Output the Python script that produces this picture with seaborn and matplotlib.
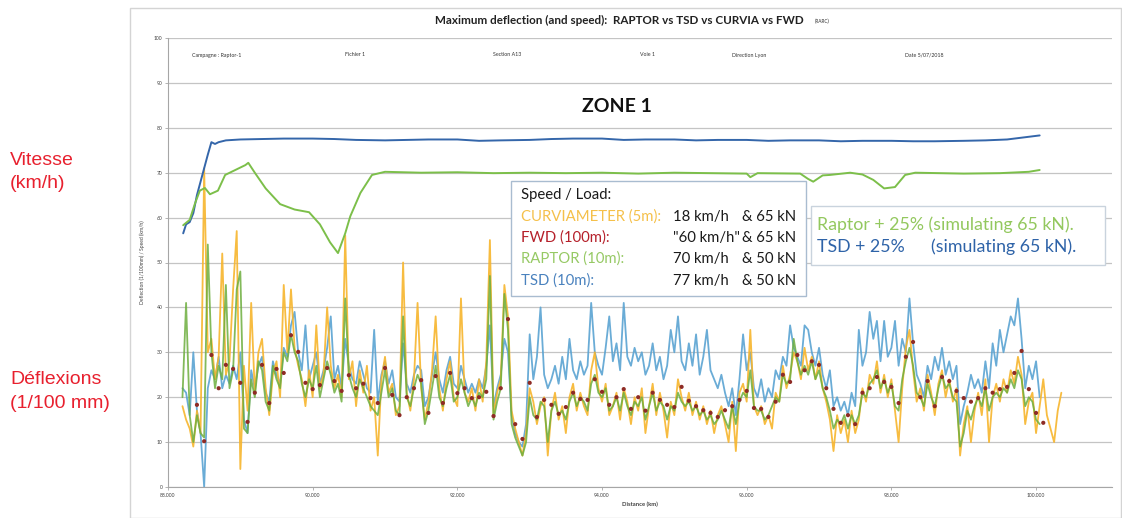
import numpy as np
import pandas as pd
import matplotlib
matplotlib.use("Agg")
import matplotlib.pyplot as plt
import seaborn as sns
from matplotlib.patches import Rectangle

# ---------------- DATA ----------------
DEFL_START_KM = 88.20
DEFL_STEP_KM = 0.05

curviameter = [
    18, 15, 13, 9, 17, 12, 71, 30, 33, 24, 29, 52, 25, 28, 44, 57, 4, 27, 17, 41,
    21, 30, 33, 22, 16, 25, 28, 20, 45, 30, 44, 31, 27, 24, 18, 26, 20, 36, 22, 25,
    40, 27, 22, 25, 20, 56, 24, 28, 18, 26, 21, 27, 17, 20, 7, 24, 29, 21, 23, 16,
    18, 50, 21, 17, 24, 41, 22, 15, 19, 26, 38, 22, 17, 24, 28, 20, 18, 42, 21, 19,
    22, 17, 24, 19, 28, 55, 16, 21, 24, 45, 38, 17, 13, 10, 7, 12, 22, 19, 14, 18,
    20, 7, 17, 21, 15, 18, 12, 20, 23, 17, 21, 18, 16, 26, 30, 22, 19, 23, 16, 18,
    21, 15, 22, 19, 14, 20, 17, 22, 12, 18, 23, 16, 21, 17, 11, 19, 16, 24, 20, 17,
    21, 16, 19, 15, 18, 14, 17, 12, 16, 18, 14, 10, 19, 8, 21, 23, 19, 35, 18, 16,
    18, 14, 16, 13, 21, 19, 27, 22, 25, 30, 28, 24, 31, 26, 29, 24, 28, 22, 19, 15,
    8, 16, 12, 15, 10, 17, 12, 15, 22, 19, 25, 23, 28, 21, 25, 20, 24, 17, 10, 22,
    31, 35, 26, 19, 22, 17, 25, 21, 16, 23, 26, 20, 24, 19, 22, 7, 14, 18, 10, 17,
    21, 16, 24, 10, 20, 23, 19, 24, 21, 26, 23, 29, 25, 14, 19, 21, 12, 18, 24, 16,
    13, 10, 17, 21,
]

raptor = [
    20, 41, 16, 10, 16, 12, 11, 54, 30, 22, 27, 24, 45, 22, 26, 44, 48, 13, 12, 24,
    20, 28, 26, 19, 17, 27, 24, 22, 30, 28, 34, 30, 28, 23, 20, 24, 22, 27, 20, 24,
    28, 25, 21, 23, 19, 42, 25, 22, 20, 24, 22, 20, 18, 17, 16, 21, 26, 20, 22, 17,
    16, 38, 20, 18, 22, 25, 23, 14, 17, 22, 27, 20, 18, 22, 25, 19, 20, 24, 21, 18,
    20, 18, 21, 20, 24, 47, 15, 19, 22, 43, 35, 14, 11, 9, 7, 10, 20, 16, 15, 19,
    18, 10, 17, 19, 16, 17, 15, 19, 21, 18, 20, 19, 17, 23, 25, 21, 20, 22, 17, 18,
    20, 17, 21, 18, 16, 19, 18, 20, 15, 18, 21, 17, 19, 18, 15, 18, 17, 21, 19, 18,
    19, 17, 18, 16, 17, 15, 16, 14, 15, 17, 15, 13, 18, 14, 19, 21, 20, 26, 18, 17,
    17, 15, 16, 18, 20, 19, 25, 23, 24, 33, 28, 25, 27, 25, 28, 24, 26, 22, 20, 17,
    13, 15, 14, 16, 13, 16, 14, 16, 21, 20, 23, 24, 26, 22, 24, 21, 23, 18, 17, 24,
    28, 31, 27, 21, 20, 18, 23, 20, 18, 22, 25, 22, 23, 20, 19, 9, 12, 17, 15, 18,
    20, 18, 22, 17, 20, 21, 20, 22, 21, 24, 22, 26, 24, 18, 20, 19, 15, 14,
]

tsd = [
    22, 21, 16, 30, 17, 12, 0, 22, 26, 24, 29, 22, 25, 23, 27, 24, 30, 15, 12, 26,
    22, 27, 29, 21, 19, 28, 25, 23, 31, 29, 36, 39, 30, 26, 36, 24, 27, 30, 23, 26,
    31, 38, 24, 27, 22, 33, 27, 24, 23, 28, 25, 22, 21, 35, 19, 25, 28, 23, 26, 20,
    19, 32, 23, 21, 25, 27, 26, 18, 20, 25, 30, 24, 21, 26, 29, 23, 22, 27, 24, 21,
    23, 21, 24, 22, 27, 36, 18, 22, 25, 33, 30, 16, 12, 10, 9, 14, 34, 24, 29, 40,
    25, 22, 24, 27, 23, 29, 24, 33, 26, 24, 28, 25, 27, 41, 30, 27, 25, 31, 38, 28,
    32, 26, 41, 29, 27, 31, 28, 30, 25, 27, 32, 26, 29, 24, 27, 35, 30, 38, 28, 26,
    32, 27, 34, 25, 29, 35, 26, 24, 22, 25, 21, 18, 22, 16, 24, 34, 26, 30, 22, 20,
    24, 19, 22, 20, 26, 24, 29, 27, 36, 31, 29, 27, 36, 35, 30, 27, 31, 25, 22, 26,
    18, 20, 17, 19, 16, 21, 18, 35, 27, 30, 39, 33, 37, 28, 37, 29, 31, 37, 27, 33,
    30, 42, 32, 25, 23, 20, 27, 24, 29, 26, 31, 25, 28, 24, 27, 14, 18, 21, 25, 22,
    24, 21, 28, 22, 32, 27, 35, 30, 34, 38, 36, 42, 33, 22, 27, 24, 28, 20,
]

FWD_START_KM = 88.4
FWD_STEP_KM = 0.1
fwd = [
    18.3, 10.2, 29.4, 22.0, 27.2, 26.3, 23.2, 14.5, 21.0, 27.2,
    18.7, 26.3, 25.4, 33.8, 30.1, 23.2, 21.8, 22.7, 26.5, 23.6,
    21.4, 24.9, 22.0, 23.0, 19.8, 18.7, 26.5, 20.5, 16.0, 20.0,
    22.0, 23.8, 16.5, 24.7, 18.7, 25.4, 20.9, 22.0, 19.8, 20.0,
    21.2, 15.8, 22.0, 37.4, 14.0, 10.7, 23.2, 15.6, 19.4, 18.3,
    16.3, 17.8, 21.0, 19.6, 19.4, 24.0, 21.2, 18.3, 20.0, 21.8,
    17.4, 20.0, 17.0, 21.0, 19.4, 18.3, 17.8, 22.3, 19.2, 18.0,
    17.1, 16.5, 15.6, 17.1, 18.0, 19.4, 21.4, 17.6, 17.4, 15.6,
    19.0, 25.0, 23.4, 29.4, 26.0, 28.0, 27.2, 22.0, 17.4, 14.3,
    16.0, 14.0, 21.0, 22.0, 24.5, 23.4, 22.3, 18.7, 29.0, 32.3,
    20.0, 23.6, 18.0, 24.5, 23.6, 21.4, 19.8, 19.0, 19.8, 22.0,
    21.0, 21.8, 22.3, 25.4, 30.3, 21.8, 16.5, 14.3,
]

speed_tsd_km = [88.21, 88.25, 88.30, 88.35, 88.40, 88.45, 88.50, 88.55, 88.60, 88.65,
                88.70, 88.80, 89.00, 89.30, 89.60, 90.00, 90.30, 90.60, 91.00, 91.30,
                91.60, 92.00, 92.30, 92.60, 93.00, 93.30, 93.60, 94.00, 94.30, 94.60,
                95.00, 95.30, 95.60, 96.00, 96.30, 96.60, 97.00, 97.30, 97.60, 98.00,
                98.30, 98.60, 99.00, 99.30, 99.60, 99.80, 100.05]
speed_tsd = [56.5, 58.5, 59.0, 61.0, 65.0, 68.0, 71.0, 74.0, 76.8, 76.4,
             76.8, 77.2, 77.4, 77.5, 77.6, 77.6, 77.5, 77.3, 77.2, 77.3,
             77.4, 77.4, 77.1, 77.2, 77.3, 77.5, 77.6, 77.6, 77.3, 77.4,
             77.4, 77.2, 77.3, 77.3, 77.1, 77.2, 77.2, 77.0, 77.1, 77.1,
             77.0, 77.0, 77.1, 77.2, 77.4, 77.8, 78.3]

speed_raptor_km = [88.21, 88.30, 88.37, 88.44, 88.51, 88.58, 88.69, 88.79, 88.93, 89.07,
                   89.11, 89.20, 89.35, 89.55, 89.75, 89.95, 90.10, 90.24, 90.35, 90.45,
                   90.52, 90.66, 90.82, 91.00, 91.50, 92.00, 92.50, 93.00, 93.50, 94.00,
                   94.50, 95.00, 95.50, 96.00, 96.05, 96.15, 96.74, 96.85, 96.92, 97.05,
                   97.15, 97.43, 97.60, 97.75, 97.90, 98.05, 98.19, 98.33, 99.00, 99.50,
                   99.90, 100.05]
speed_raptor = [58.3, 59.5, 63.0, 66.0, 66.6, 65.2, 66.0, 69.5, 70.6, 71.7,
                72.2, 70.0, 66.5, 63.0, 61.8, 61.2, 58.5, 54.5, 52.1, 56.5,
                60.3, 65.5, 69.5, 70.2, 70.0, 70.1, 69.9, 70.0, 69.9, 70.0,
                69.8, 70.0, 69.9, 69.8, 69.0, 69.9, 69.8, 68.6, 68.0, 69.4,
                69.5, 70.0, 69.6, 68.4, 66.5, 66.8, 69.5, 70.0, 69.8, 69.9,
                70.2, 70.6]

x_ticks = [88, 90, 92, 94, 96, 98, 100]
y_ticks = [0, 10, 20, 30, 40, 50, 60, 70, 80, 90, 100]

# ---------------- FRAMES ----------------
def defl_frame(vals, name):
    km = np.round(DEFL_START_KM + DEFL_STEP_KM * np.arange(len(vals)), 2)
    return pd.DataFrame({"km": km, "val": vals, "series": name})

df_c = defl_frame(curviameter, "CURVIAMETER")
df_r = defl_frame(raptor, "RAPTOR")
df_t = defl_frame(tsd, "TSD")
df_f = pd.DataFrame({"km": np.round(FWD_START_KM + FWD_STEP_KM * np.arange(len(fwd)), 2),
                     "val": fwd})
df_st = pd.DataFrame({"km": speed_tsd_km, "val": speed_tsd})
df_sr = pd.DataFrame({"km": speed_raptor_km, "val": speed_raptor})

# ---------------- STYLE ----------------
sns.set_theme(style="white")
plt.rcParams['font.family'] = ['Lato', 'DejaVu Sans']

W, H = 1122, 518
fig = plt.figure(figsize=(W / 100, H / 100), dpi=100)
fig.patch.set_facecolor("white")

def fx(px):
    return px / W

def fy(py):
    return 1 - py / H

ax = fig.add_axes([fx(168), fy(487), fx(1112) - fx(168), fy(38) - fy(487)])

C_YEL = "#F7B52C"
C_GRN = "#6DAE3E"
C_BLU = "#5AA3D2"
C_SPD_B = "#3466AA"
C_SPD_G = "#7CBF4A"
C_FWD = "#8E2B25"

sns.lineplot(data=df_t, x="km", y="val", ax=ax, color=C_BLU, lw=1.3,
             estimator=None, sort=False, alpha=0.9, zorder=2)
sns.lineplot(data=df_c, x="km", y="val", ax=ax, color=C_YEL, lw=1.3,
             estimator=None, sort=False, alpha=0.9, zorder=3)
sns.lineplot(data=df_r, x="km", y="val", ax=ax, color=C_GRN, lw=1.3,
             estimator=None, sort=False, alpha=0.85, zorder=4)
sns.scatterplot(data=df_f, x="km", y="val", ax=ax, color=C_FWD, s=9,
                edgecolor="none", zorder=6)
sns.lineplot(data=df_st, x="km", y="val", ax=ax, color=C_SPD_B, lw=1.4,
             estimator=None, sort=False, zorder=5)
sns.lineplot(data=df_sr, x="km", y="val", ax=ax, color=C_SPD_G, lw=1.4,
             estimator=None, sort=False, zorder=5)

ax.set_xlim(88, 101.05)
ax.set_ylim(0, 100)
ax.set_xticks(x_ticks)
ax.set_xticklabels([f"{v:.3f}" for v in x_ticks])
ax.set_yticks(y_ticks)
ax.set_yticklabels([str(v) for v in y_ticks])
ax.yaxis.grid(True, color="#C4C4C4", lw=0.9)
ax.xaxis.grid(False)
for s in ["top", "right"]:
    ax.spines[s].set_visible(False)
for s in ["left", "bottom"]:
    ax.spines[s].set_color("#A6A6A6")
    ax.spines[s].set_linewidth(0.8)
ax.tick_params(axis="both", direction="out", length=2.5, width=0.6, color="#A6A6A6",
               labelsize=3.6, labelcolor="#404040", pad=1.5)
ax.tick_params(axis="both", bottom=True, left=True)
ax.set_xlabel("Distance (km)", fontsize=4.2, color="#404040", labelpad=3, fontweight="bold")
ax.set_ylabel("Deflection (1/100mm) / Speed (km/h)", fontsize=3.6, color="#404040", labelpad=6)

# outer chart frame
fig.patches.append(Rectangle((fx(130), 0), fx(1121) - fx(130), fy(8), transform=fig.transFigure,
                             fill=False, edgecolor="#D4D4D4", lw=1.0))

# title
fig.text(fx(435), fy(20), "Maximum deflection (and speed):  RAPTOR vs TSD vs CURVIA vs FWD",
         ha="left", va="center", fontsize=8.4, fontweight="bold", color="#222222")
fig.text(fx(815), fy(21), "(RARC)", ha="left", va="center", fontsize=3.4, color="#333333")

# header info
header = [(192, "Campagne : Raptor-1"), (345, "Fichier 1"), (493, "Section A13"),
          (640, "Voie 1"), (732, "Direction Lyon"), (905, "Date 5/07/2018")]
for px, t in header:
    fig.text(fx(px), fy(55), t, ha="left", va="center", fontsize=3.8, color="#333333")

# ZONE 1
fig.text(fx(617), fy(106), "ZONE 1", ha="center", va="center", fontsize=14,
         fontweight="bold", color="#111111")

# left red labels
RED = "#E8202E"
for py, t in [(161, "Vitesse"), (183, "(km/h)"), (380, "Déflexions"), (404, "(1/100 mm)")]:
    fig.text(fx(10), fy(py), t, ha="left", va="center", fontsize=14, color=RED,
             family=["Liberation Sans", "DejaVu Sans"])

# speed / load box
fig.patches.append(Rectangle((fx(511), fy(296)), fx(806) - fx(511), fy(181) - fy(296),
                             transform=fig.transFigure, facecolor="white",
                             edgecolor="#A9BCD0", lw=1.0, zorder=10))
FS = 10.7
fig.text(fx(521), fy(195), "Speed / Load:", ha="left", va="center", fontsize=FS,
         color="#1A1A1A", zorder=11)
rows = [("CURVIAMETER (5m):", "#F5C04A", "18 km/h", "& 65 kN", 217),
        ("FWD (100m):", "#B5202A", "\"60 km/h\"", "& 65 kN", 238),
        ("RAPTOR (10m):", "#96C964", "70 km/h", "& 50 kN", 259),
        ("TSD (10m):", "#4A82BE", "77 km/h", "& 50 kN", 281)]
for lab, col, spd, load, py in rows:
    fig.text(fx(521), fy(py), lab, ha="left", va="center", fontsize=FS, color=col, zorder=11)
    fig.text(fx(729 if not spd.startswith('"') else 740), fy(py), spd, ha="right",
             va="center", fontsize=FS, color="#1A1A1A", zorder=11)
    fig.text(fx(796), fy(py), load, ha="right", va="center", fontsize=FS,
             color="#1A1A1A", zorder=11)

# +25% box
fig.patches.append(Rectangle((fx(811), fy(265)), fx(1105) - fx(811), fy(206) - fy(265),
                             transform=fig.transFigure, facecolor="white",
                             edgecolor="#C9D3DD", lw=1.0, zorder=10))
FS2 = 12.8
fig.text(fx(817), fy(225), "Raptor + 25% (simulating 65 kN).", ha="left", va="center",
         fontsize=FS2, color="#93C85E", zorder=11)
fig.text(fx(817), fy(247), "TSD + 25%", ha="left", va="center",
         fontsize=FS2, color="#2E63A8", zorder=11)
fig.text(fx(931), fy(247), "(simulating 65 kN).", ha="left", va="center",
         fontsize=FS2, color="#2E63A8", zorder=11)

fig.savefig("out.png", dpi=100, facecolor="white")
